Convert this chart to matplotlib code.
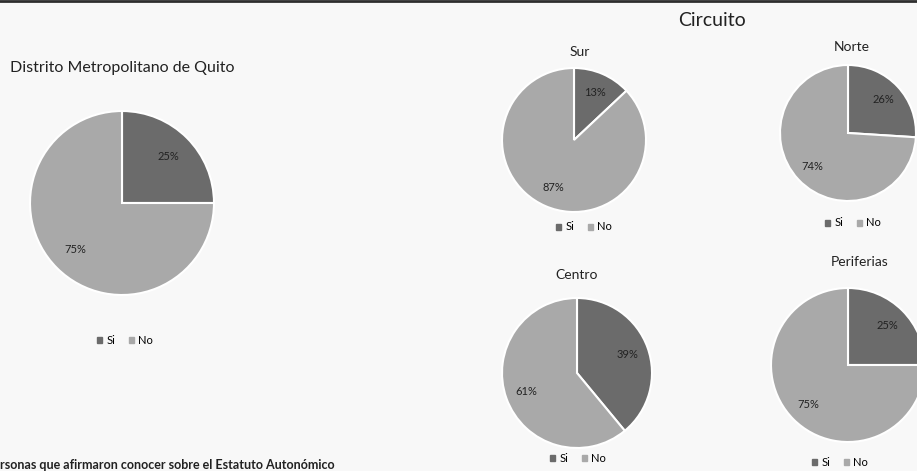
import matplotlib.pyplot as plt
from matplotlib.patches import Patch

plt.rcParams['font.family'] = ['Lato', 'DejaVu Sans']

W, H = 917, 471

# data
titles = ["Distrito Metropolitano de Quito", "Sur", "Norte", "Centro", "Periferias"]
si = [25, 13, 26, 39, 25]
no = [75, 87, 74, 61, 75]
labels = ["Si", "No"]

# layout in pixels: pie centre, radius, title, legend
centers = [(122, 203), (574, 140), (848, 133), (577, 373), (848, 365)]
radii = [92, 72, 68, 75, 77]
title_pos = [(122, 68), (580, 52), (852, 47), (577, 275), (860, 262)]
title_size = [11.5, 10, 10, 10, 10]
legend_pos = [(125, 340), (584, 227), (853, 223), (578, 458), (840, 462)]

dark = "#6b6b6b"
light = "#a9a9a9"


def fx(x):
    return x / W


def fy(y):
    return 1 - y / H


fig = plt.figure(figsize=(W / 100, H / 100), dpi=100)
fig.patch.set_facecolor("#f8f8f8")

# scanned page border at the top
fig.add_artist(plt.Line2D([0, 1], [fy(1), fy(1)], color="#2e2e2e", lw=2))

for i in range(len(titles)):
    cx, cy = centers[i]
    r = radii[i]
    ax = fig.add_axes([fx(cx - r), fy(cy + r), 2 * r / W, 2 * r / H])
    wedges, texts, autotexts = ax.pie(
        [si[i], no[i]], colors=[dark, light], startangle=90, counterclock=False,
        autopct="%d%%", pctdistance=0.72,
        wedgeprops=dict(edgecolor="white", linewidth=1.5),
        textprops=dict(fontsize=8, color="#222222"))
    ax.set_xlim(-1, 1)
    ax.set_ylim(-1, 1)
    ax.set_aspect("equal")
    ax.axis("off")

    tx, ty = title_pos[i]
    fig.text(fx(tx), fy(ty), titles[i], ha="center", va="center",
             fontsize=title_size[i], color="#222222")

    lx, ly = legend_pos[i]
    handles = [Patch(color=dark), Patch(color=light)]
    fig.legend(handles, labels, loc="center", bbox_to_anchor=(fx(lx), fy(ly)),
               ncol=2, frameon=False, fontsize=8, handlelength=0.45,
               handleheight=0.45, handletextpad=0.4, columnspacing=1.2)

fig.text(fx(712), fy(20), "Circuito", ha="center", va="center",
         fontsize=14, color="#222222")
fig.text(0, fy(465), "rsonas que afirmaron conocer sobre el Estatuto Autonómico",
         ha="left", va="center", fontsize=9, fontweight="bold", color="#222222")

plt.savefig("out.png", dpi=100)
